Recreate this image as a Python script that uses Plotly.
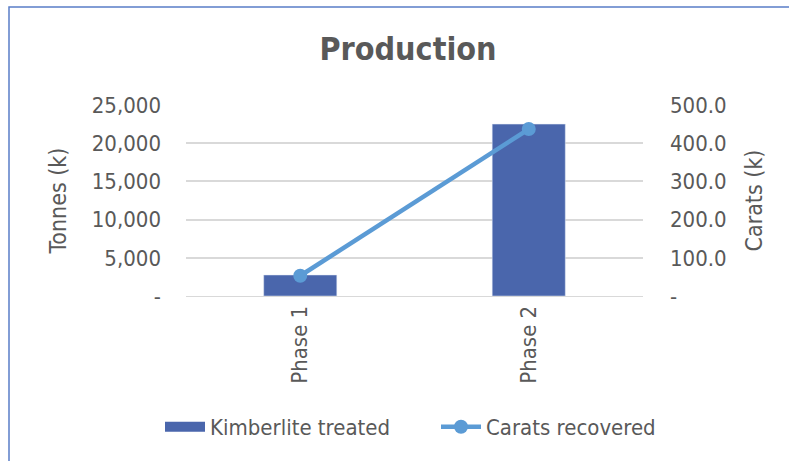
import plotly.graph_objects as go

categories = ["Phase 1", "Phase 2"]
kimberlite_treated = [2750, 22500]
carats_recovered = [53, 437]

left_tickvals = [0, 5000, 10000, 15000, 20000, 25000]
left_ticktext = ["-", "5,000", "10,000", "15,000", "20,000", "25,000"]
right_tickvals = [0, 100, 200, 300, 400, 500]
right_ticktext = ["-", "100.0", "200.0", "300.0", "400.0", "500.0"]

FONT = "DejaVu Sans Condensed, Roboto, sans-serif"
GREY = "#595959"
BAR = "#4A66AC"
LINE = "#5B9BD5"

fig = go.Figure()
fig.add_trace(go.Bar(x=categories, y=kimberlite_treated, name="Kimberlite treated",
                     marker_color=BAR, showlegend=False, yaxis="y"))
# legend proxy for the bar (wide swatch)
fig.add_trace(go.Scatter(x=[None], y=[None], mode="lines", name="Kimberlite treated",
                         line=dict(color=BAR, width=14), yaxis="y"))
fig.add_trace(go.Scatter(x=categories, y=carats_recovered, name="Carats recovered",
                         mode="lines+markers", line=dict(color=LINE, width=4.5),
                         marker=dict(size=14, color=LINE), yaxis="y2"))

l, r, t, b = 186, 146, 105, 165
W, H = 789, 461
pw, ph = W - l - r, H - t - b

def py(p):
    return (H - b - p) / ph

def px(p):
    return (p - l) / pw

fig.update_layout(
    width=W, height=H,
    margin=dict(l=l, r=r, t=t, b=b, autoexpand=False),
    paper_bgcolor="white", plot_bgcolor="white",
    font=dict(family=FONT, color=GREY, size=22),
    title=dict(text="<b>Production</b>", x=408 / W, xanchor="center",
               y=1 - 49 / H, yanchor="middle",
               font=dict(family=FONT, size=32, color=GREY)),
    bargap=0.68,
    showlegend=True,
    legend=dict(orientation="h", x=px(160), xanchor="left",
                y=py(427), yanchor="middle",
                font=dict(size=22, color=GREY), itemwidth=40,
                entrywidth=221, entrywidthmode="pixels",
                traceorder="normal", bgcolor="rgba(0,0,0,0)"),
    xaxis=dict(showgrid=False, showline=True, linecolor="#D9D9D9", linewidth=1,
               tickangle=-90, tickfont=dict(size=22, color=GREY), ticks=""),
    yaxis=dict(range=[0, 25000], tickvals=left_tickvals, ticktext=left_ticktext,
               showgrid=True, gridcolor="#D9D9D9", gridwidth=1.5, zeroline=False,
               ticklabelstandoff=24, tickfont=dict(size=22),
               title=dict(text="Tonnes (k)", font=dict(size=23, color=GREY), standoff=18)),
    yaxis2=dict(range=[0, 500], tickvals=right_tickvals, ticktext=right_ticktext,
                overlaying="y", side="right", showgrid=False, zeroline=False,
                ticklabelstandoff=26, tickfont=dict(size=22),
                title=dict(text="Carats (k)", font=dict(size=23, color=GREY), standoff=20)),
)

# outer frame
fig.add_shape(type="rect", xref="paper", yref="paper",
              x0=px(9), x1=px(800), y0=py(475), y1=py(7),
              line=dict(color="#5A7EC8", width=1.5), fillcolor="rgba(0,0,0,0)", layer="below")

fig.write_html("out.html")
